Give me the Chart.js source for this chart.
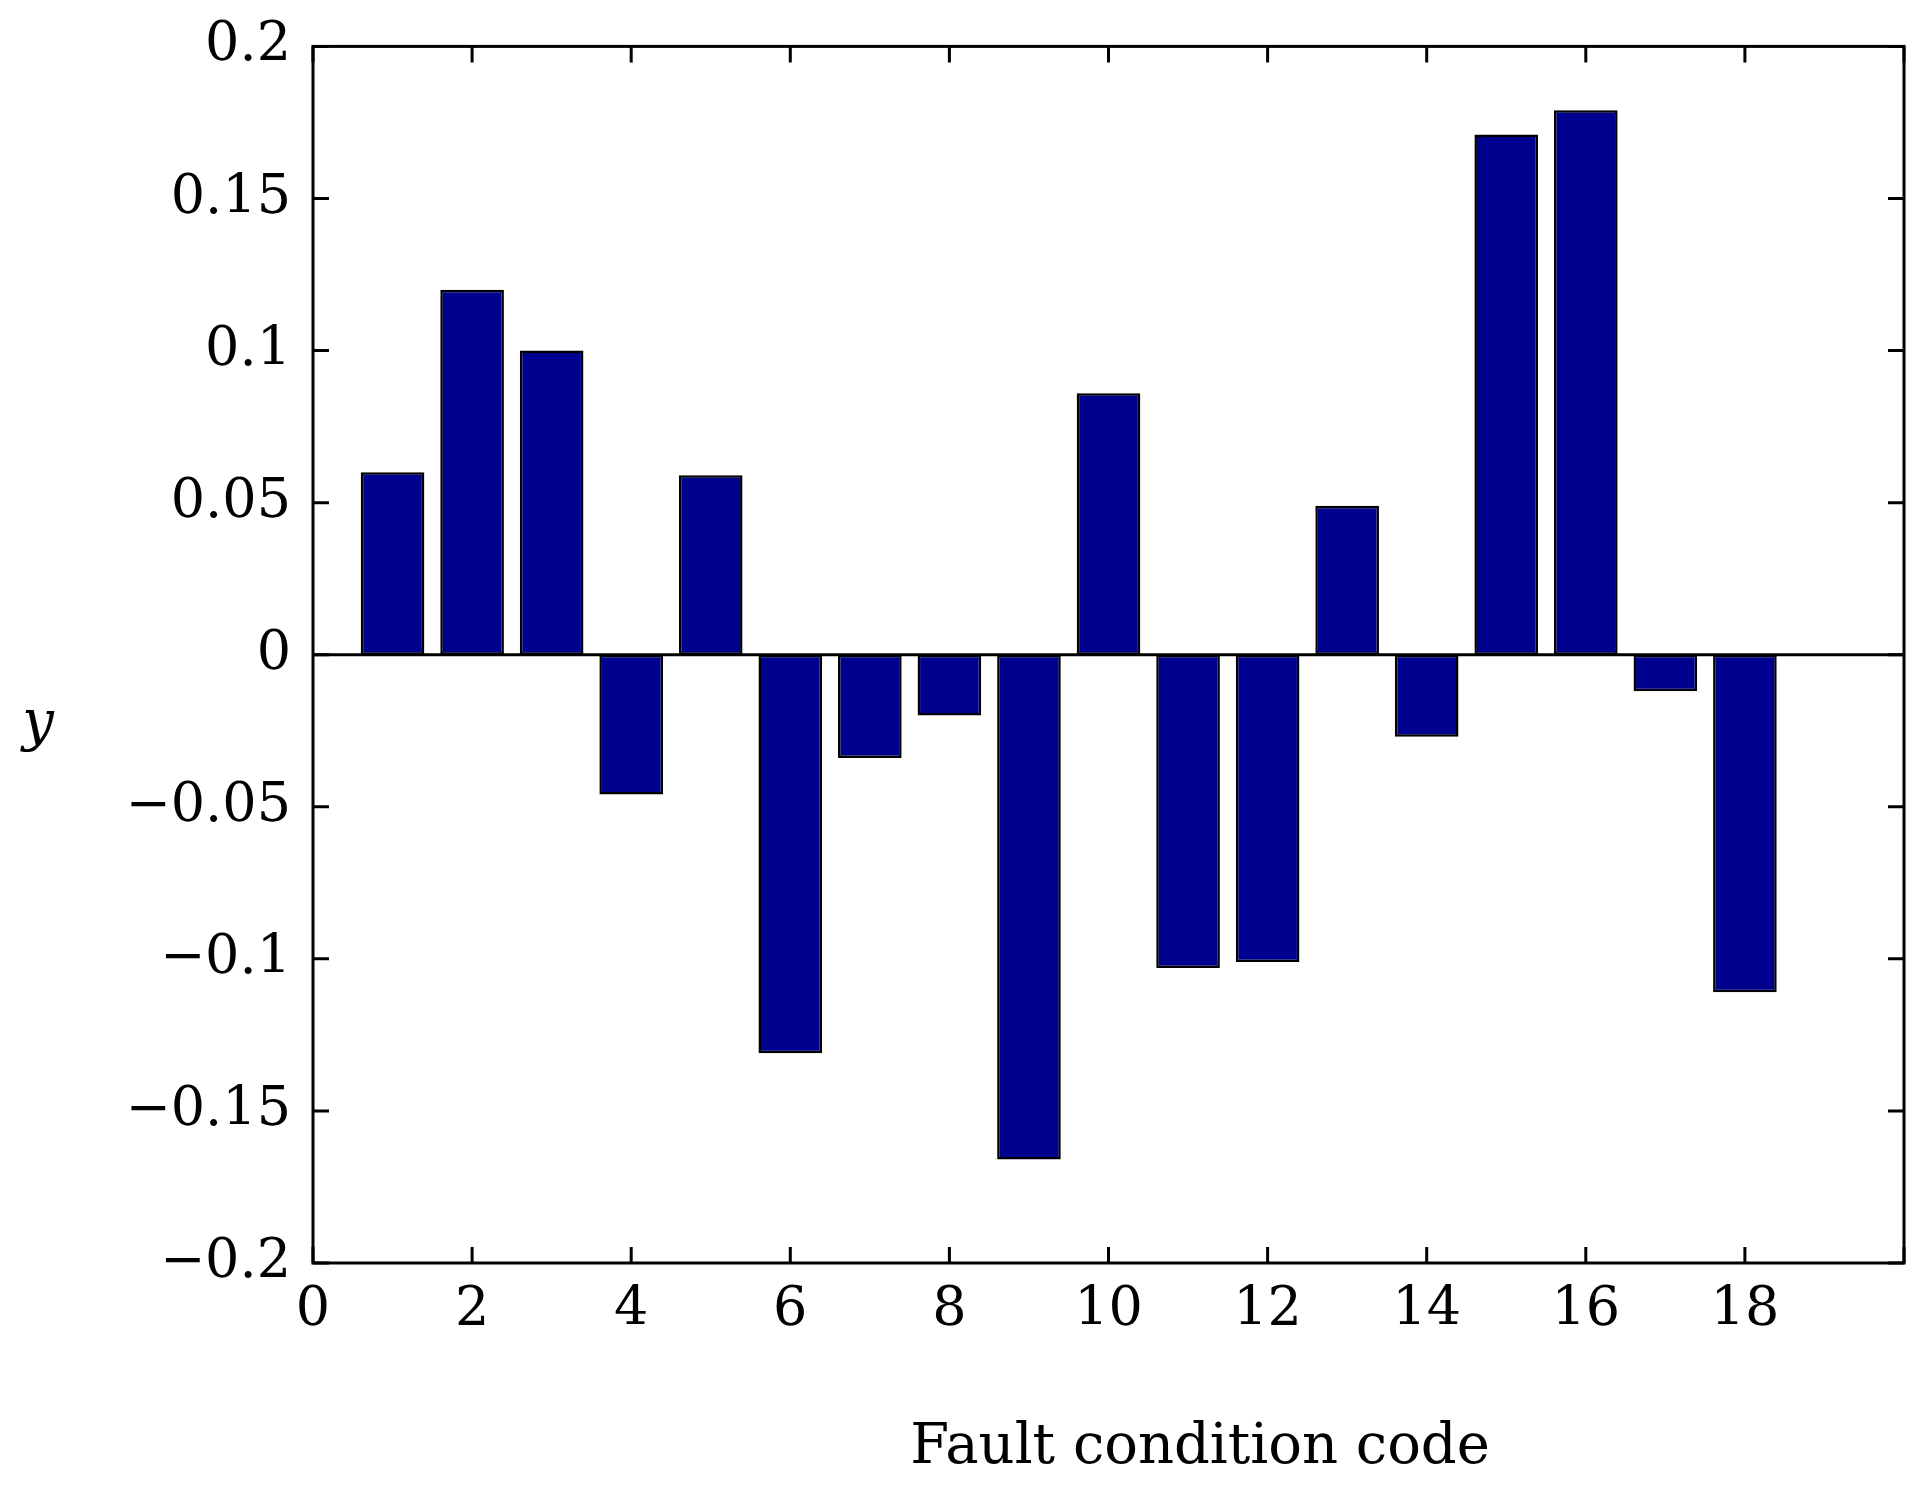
<!DOCTYPE html>
<html>
<head>
<meta charset="utf-8">
<script src="https://cdn.jsdelivr.net/npm/chart.js@4/dist/chart.umd.min.js"></script>
<style>
  body { margin: 0; background: #fff; }
  #wrap { width: 1922px; height: 1489px; }
</style>
</head>
<body>
<div id="wrap"><canvas id="grafico"></canvas></div>
<script>
// codigos de falla y valores
const codes = [1, 2, 3, 4, 5, 6, 7, 8, 9, 10, 11, 12, 13, 14, 15, 16, 17, 18];
const values = [0.06, 0.12, 0.1, -0.046, 0.059, -0.131, -0.034, -0.02, -0.166, 0.086,
  -0.103, -0.101, 0.049, -0.027, 0.171, 0.179, -0.012, -0.111];
const xTitle = "Fault condition code";
const yTitle = "y";

const FONT = "'DejaVu Serif', 'Liberation Serif', serif";

// marco, linea cero, marcas hacia adentro y titulos
const framePlugin = {
  id: "frame",
  afterDraw(chart) {
    const { ctx, chartArea: a, scales } = chart;
    ctx.save();
    ctx.strokeStyle = "#000";
    ctx.lineWidth = 3;
    ctx.strokeRect(a.left, a.top, a.right - a.left, a.bottom - a.top);
    const y0 = scales.y.getPixelForValue(0);
    ctx.beginPath();
    ctx.moveTo(a.left, y0);
    ctx.lineTo(a.right, y0);
    ctx.stroke();
    const len = 16;
    ctx.beginPath();
    scales.x.ticks.forEach((t) => {
      const px = scales.x.getPixelForValue(t.value);
      ctx.moveTo(px, a.bottom); ctx.lineTo(px, a.bottom - len);
      ctx.moveTo(px, a.top); ctx.lineTo(px, a.top + len);
    });
    scales.y.ticks.forEach((t) => {
      const py = scales.y.getPixelForValue(t.value);
      ctx.moveTo(a.left, py); ctx.lineTo(a.left + len, py);
      ctx.moveTo(a.right, py); ctx.lineTo(a.right - len, py);
    });
    ctx.stroke();
    ctx.fillStyle = "#000";
    ctx.textAlign = "center";
    ctx.textBaseline = "middle";
    ctx.font = "56px " + FONT;
    ctx.fillText(xTitle, 1200, 1448);
    ctx.font = "italic 56px " + FONT;
    ctx.fillText(yTitle, 38, 725);
    ctx.restore();
  },
};

const fmt = (v) => {
  const r = Math.round(v * 100) / 100;
  if (r === 0) return "0";
  const s = String(Math.abs(r));
  return r < 0 ? "\u2212" + s : s;
};

new Chart(document.getElementById("grafico"), {
  type: "bar",
  data: {
    datasets: [{
      data: codes.map((c, i) => ({ x: c, y: values[i] })),
      backgroundColor: "#00008f",
      borderColor: "#000",
      borderWidth: 2.5,
      borderSkipped: false,
      barPercentage: 0.8,
      categoryPercentage: 1,
    }],
  },
  options: {
    responsive: true,
    maintainAspectRatio: false,
    animation: false,
    layout: { padding: { top: 41, right: 18, left: 0, bottom: 0 } },
    plugins: { legend: { display: false }, tooltip: { enabled: false } },
    scales: {
      x: {
        type: "linear",
        min: 0,
        max: 20,
        offset: false,
        grid: { display: false },
        border: { display: false },
        afterFit: (s) => { s.height = 226; },
        ticks: {
          stepSize: 2,
          color: "#000",
          font: { family: FONT, size: 54 },
          padding: 8,
          maxRotation: 0,
          callback: (v) => (v === 20 ? "" : String(v)),
        },
      },
      y: {
        min: -0.2,
        max: 0.2,
        grid: { display: false },
        border: { display: false },
        afterFit: (s) => { s.width = 313; },
        ticks: {
          stepSize: 0.05,
          color: "#000",
          font: { family: FONT, size: 54 },
          padding: 14,
          callback: fmt,
        },
      },
    },
  },
  plugins: [framePlugin],
});
</script>
</body>
</html>
